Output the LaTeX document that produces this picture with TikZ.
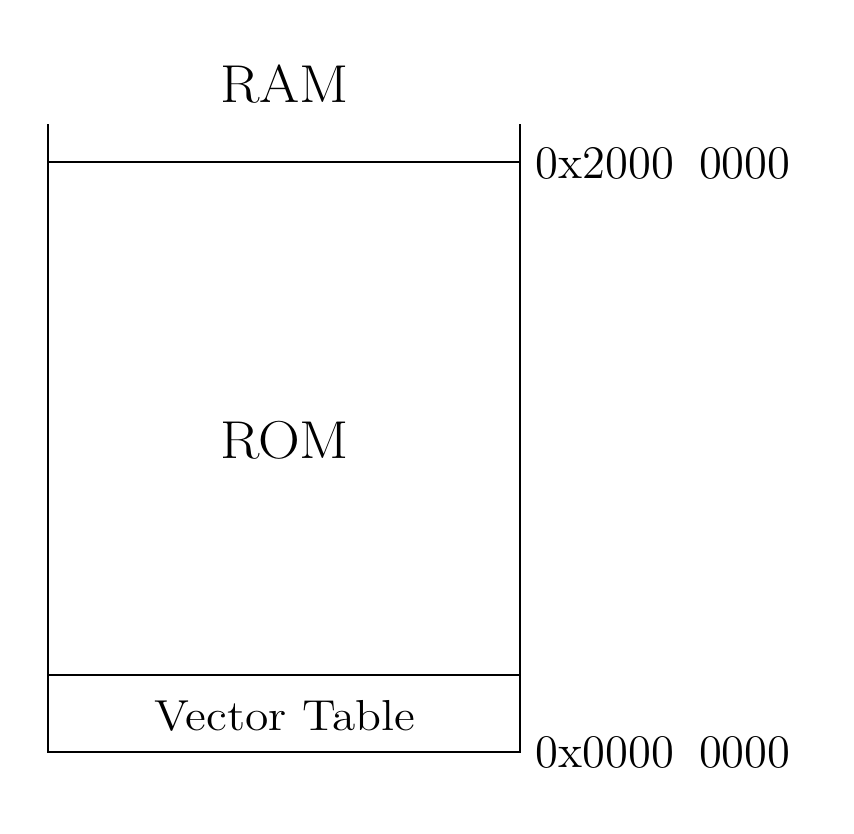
\documentclass[tikz,border=0pt]{standalone}
\newcommand{\widen}[2]{\scalebox{#1}[1]{#2}}
\begin{document}
\begin{tikzpicture}[x=0.3pt,y=-0.3pt,
  wall/.style={line width=0.7pt},
  bigtext/.style={font=\fontsize{16}{19}\selectfont,anchor=base,inner sep=0pt},
  smalltext/.style={font=\fontsize{13}{16}\selectfont,anchor=base,inner sep=0pt},
  addr/.style={font=\fontsize{14}{17}\selectfont,anchor=base west,inner sep=0pt}]
\useasboundingbox (0,0) rectangle (854,834);
\coordinate (tl) at (48,124);
\coordinate (tr) at (520,124);
\coordinate (bl) at (48,752);
\coordinate (br) at (520,752);
\coordinate (ramL) at (48,162);
\coordinate (ramR) at (520,162);
\coordinate (vtL) at (48,675);
\coordinate (vtR) at (520,675);
\draw[wall] (tl) -- (bl) -- (br) -- (tr);
\draw[wall] (ramL) -- (ramR);
\draw[wall] (vtL) -- (vtR);
\node[bigtext] (ram) at (284.5,102) {\widen{1.085}{RAM}};
\node[bigtext] (rom) at (284.5,458) {\widen{1.085}{ROM}};
\node[smalltext] (vt) at (285,730) {\widen{1.1}{Vector Table}};
\node[addr] (a2) at (535,178) {0x2000\hskip 7.5pt 0000};
\node[addr] (a0) at (535,767) {0x0000\hskip 7.5pt 0000};
\end{tikzpicture}
\end{document}
